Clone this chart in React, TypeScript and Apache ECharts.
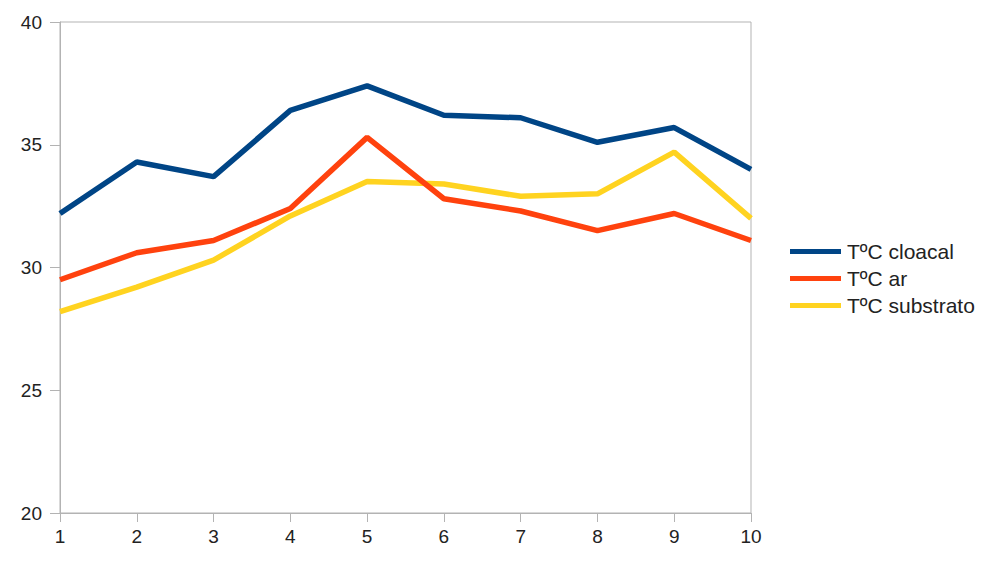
import React, { useEffect, useRef } from "react";
import * as echarts from "echarts";

const categories = ["1", "2", "3", "4", "5", "6", "7", "8", "9", "10"];
const cloacal = [32.2, 34.3, 33.7, 36.4, 37.4, 36.2, 36.1, 35.1, 35.7, 34.0];
const ar = [29.5, 30.6, 31.1, 32.4, 35.3, 32.8, 32.3, 31.5, 32.2, 31.1];
const substrato = [28.2, 29.2, 30.3, 32.1, 33.5, 33.4, 32.9, 33.0, 34.7, 32.0];
const seriesNames = ["TºC cloacal", "TºC ar", "TºC substrato"];
const colors = ["#004586", "#ff420e", "#ffd320"];

export default function App() {
  const ref = useRef<HTMLDivElement>(null);
  useEffect(() => {
    if (!ref.current) return;
    const chart = echarts.init(ref.current, undefined, { renderer: "svg" });
    const font = "'Liberation Sans', Arial, sans-serif";
    const data = [cloacal, ar, substrato];
    chart.setOption({
      animation: false,
      backgroundColor: "#ffffff",
      grid: {
        left: 60,
        right: 249,
        top: 22,
        bottom: 50,
        show: true,
        borderColor: "#b3b3b3",
        borderWidth: 1,
        containLabel: false,
      },
      legend: {
        orient: "vertical",
        left: 790,
        top: 241,
        icon: "rect",
        itemWidth: 51,
        itemHeight: 5,
        itemGap: 6,
        padding: 0,
        data: seriesNames,
        textStyle: { fontFamily: font, fontSize: 21, color: "#222", padding: [0, 0, 0, 1] },
      },
      xAxis: {
        type: "category",
        data: categories,
        boundaryGap: false,
        axisLine: { lineStyle: { color: "#b3b3b3", width: 1 } },
        axisTick: { show: true, length: 9, lineStyle: { color: "#b3b3b3" } },
        axisLabel: { fontFamily: font, fontSize: 19, color: "#222", margin: 14 },
        splitLine: { show: false },
      },
      yAxis: {
        type: "value",
        min: 20,
        max: 40,
        interval: 5,
        axisLine: { show: true, lineStyle: { color: "#b3b3b3", width: 1 } },
        axisTick: { show: true, length: 10, lineStyle: { color: "#b3b3b3" } },
        axisLabel: { fontFamily: font, fontSize: 19, color: "#222", margin: 18 },
        splitLine: { show: false },
      },
      series: data.map((d, i) => ({
        name: seriesNames[i],
        type: "line",
        data: d,
        showSymbol: false,
        symbol: "none",
        lineStyle: { color: colors[i], width: 5.5 },
        itemStyle: { color: colors[i] },
        z: 10 - i,
      })),
    });
    return () => chart.dispose();
  }, []);
  return (
    <div
      ref={ref}
      style={{ position: "fixed", left: 0, top: 0, width: 1000, height: 563 }}
    />
  );
}
